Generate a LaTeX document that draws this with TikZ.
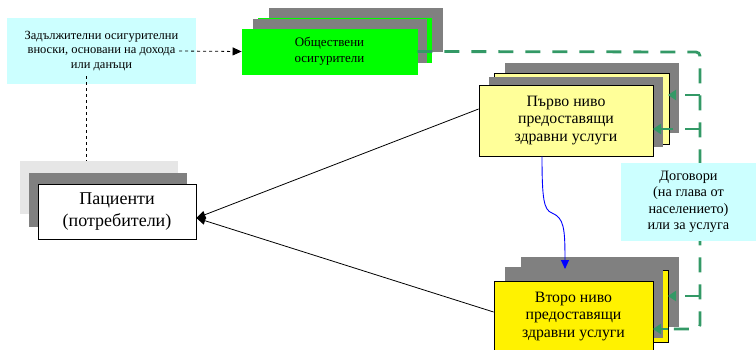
\documentclass[tikz,border=0pt]{standalone}
\usepackage{fontspec}
\setmainfont{Liberation Serif}
\usetikzlibrary{arrows.meta}
\definecolor{paleCyan}{HTML}{CCFFFF}
\definecolor{paleYellow}{HTML}{FFFF99}
\definecolor{brightGreen}{HTML}{00FF00}
\definecolor{shadowGray}{HTML}{808080}
\definecolor{lightGray}{HTML}{E6E6E6}
\definecolor{contractGreen}{HTML}{339966}
\tikzset{
  box/.style={draw=black, line width=0.8pt, align=center, inner sep=0pt},
  note/.style={fill=paleCyan, align=center, inner sep=0pt},
  tip/.style={-{Triangle[length=9pt,width=8pt]}},
  greentip/.style={-{Triangle[length=8pt,width=10pt]}},
  contract/.style={draw=contractGreen, line width=2.8pt, dash pattern=on 15pt off 12pt},
}
\begin{document}
\begin{tikzpicture}[x=1pt, y=-1pt]
            \clip (0,0) rectangle (756,349);

            % contributions note
            \node[note, minimum width=189pt, minimum height=66pt,
                  font={\fontsize{12.5}{14.5}\selectfont}] (contrib) at (101.5, 51)
                  {Задължителни осигурителни\\вноски, основани на дохода\\или данъци};

            % public insurers
            \fill[shadowGray] (269, 8) rectangle (443, 52);
            \fill[brightGreen] (258, 18) rectangle (432, 63);
            \fill[shadowGray] (253, 19) rectangle (427, 63);
            \node[box, draw=brightGreen, fill=brightGreen, minimum width=175pt, minimum height=45pt,
                  font={\fontsize{13}{16}\selectfont}] (insurers) at (329.5, 51.5)
                  {Обществени\\осигурители};

            % patients
            \fill[lightGray] (20, 161) rectangle (178, 214);
            \fill[shadowGray] (29, 173) rectangle (187, 227);
            \node[box, fill=white, minimum width=158pt, minimum height=55pt,
                  font={\fontsize{18}{22}\selectfont}] (patients) at (117, 211.5)
                  {Пациенти\\(потребители)};

            % primary care
            \fill[shadowGray] (505, 63) rectangle (679, 133);
            \filldraw[fill=paleYellow, line width=0.8pt] (494, 73) rectangle (669, 144);
            \fill[shadowGray] (489, 77) rectangle (663, 147);
            \node[box, fill=paleYellow, minimum width=174pt, minimum height=71pt,
                  font={\fontsize{15.8}{17.5}\selectfont}] (primary) at (566, 120.5)
                  {Първо ниво\\предоставящи\\здравни услуги};

            % secondary care
            \fill[shadowGray] (521, 257) rectangle (679, 327);
            \filldraw[fill=yellow, line width=0.8pt] (509, 270) rectangle (668, 342);
            \fill[shadowGray] (505, 267) rectangle (663, 338);
            \node[box, fill=yellow, minimum width=159pt, minimum height=71pt,
                  font={\fontsize{15.8}{17.5}\selectfont}] (secondary) at (573.5, 316.5)
                  {Второ ниво\\предоставящи\\здравни услуги};

            % contracts
            \coordinate (corner) at (700, 52);
            \draw[contract, rounded corners=4pt] (insurers.east) -- (corner) -- (700, 329) -- (668, 329);
            \draw[contract, greentip] (700, 95) -- (668, 95);
            \draw[contract, greentip] (700, 129) -- (653, 129);
            \draw[contract, greentip] (700, 296) -- (668, 296);
            \draw[contract, greentip] (668, 329) -- (653, 329);

            \node[note, minimum width=135pt, minimum height=78pt,
                  font={\fontsize{14.3}{16.5}\selectfont}] (terms) at (688.5, 202)
                  {Договори\\(на глава от\\населението)\\или за услуга};

            % flows
            \coordinate (vtop) at (86, 76);
            \draw[dashed, line width=0.8pt] (vtop) -- (86, 161);
            \draw[dashed, line width=0.8pt, tip] ([xshift=-17pt]contrib.east) -- (insurers.west);
            \draw[line width=0.8pt, tip] ([yshift=11.5pt]primary.west) -- ([yshift=-6.5pt]patients.east);
            \draw[line width=0.8pt, tip] ([yshift=4.5pt]secondary.west) -- ([yshift=-6.5pt]patients.east);
            \draw[blue, line width=0.9pt, tip] ([xshift=-24pt]primary.south)
                .. controls (542, 200) and (544, 210) .. (552, 213)
                .. controls (564, 218) and (565, 228) .. (565, 269);
\end{tikzpicture}
\end{document}
